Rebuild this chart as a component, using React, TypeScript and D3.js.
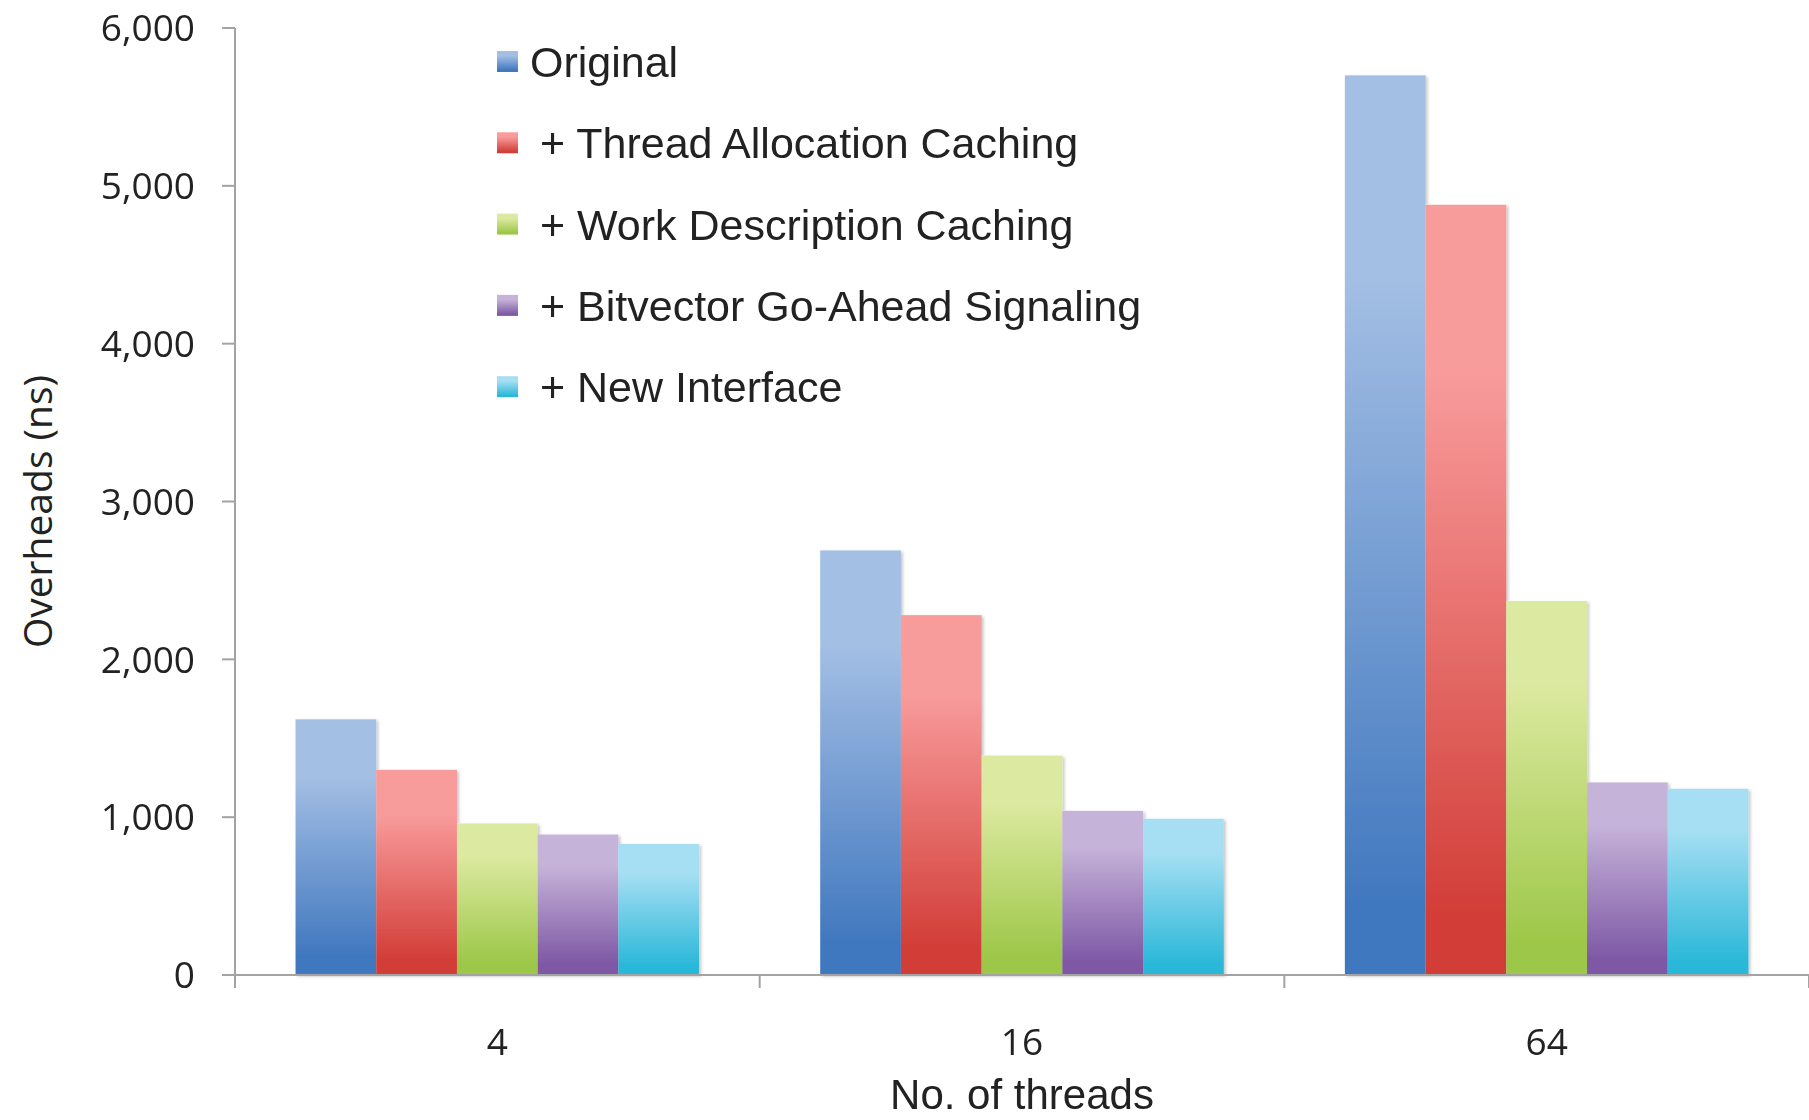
import React from "react";
import * as d3 from "d3";

// Thread counts on the x axis
const categories = ["4", "16", "64"];

// Series names, in legend order
const seriesNames = [
  "Original",
  "+ Thread Allocation Caching",
  "+ Work Description Caching",
  "+ Bitvector Go-Ahead Signaling",
  "+ New Interface",
];

// Overheads (ns) per series, one value per thread count
const original = [1620, 2690, 5700];
const threadAllocCaching = [1300, 2280, 4880];
const workDescCaching = [960, 1390, 2370];
const bitvectorSignaling = [890, 1040, 1220];
const newInterface = [830, 990, 1180];

const yTicks = [0, 1000, 2000, 3000, 4000, 5000, 6000];

// Gradient colors (top, bottom) per series
const seriesColors: [string, string][] = [
  ["#a4bfe4", "#4178bf"],
  ["#f89b9b", "#d23e38"],
  ["#dce9a0", "#9dc748"],
  ["#c6b3d9", "#7e58a5"],
  ["#a6dff3", "#2cb8d9"],
];

const W = 1809;
const H = 1120;
const plotLeft = 235;
const plotRight = 1809;
const plotTop = 28;
const plotBottom = 975;

export default function App() {
  const seriesValues = [
    original,
    threadAllocCaching,
    workDescCaching,
    bitvectorSignaling,
    newInterface,
  ];

  const x0 = d3
    .scaleBand<string>()
    .domain(categories)
    .range([plotLeft, plotRight])
    .paddingInner(0)
    .paddingOuter(0);

  const x1 = d3
    .scaleBand<string>()
    .domain(seriesNames)
    .range([0, x0.bandwidth()])
    .paddingInner(0)
    .paddingOuter(0.75);

  const y = d3.scaleLinear().domain([0, 6000]).range([plotBottom, plotTop]);
  const fmt = d3.format(",");

  const axisColor = "#a3a3a3";
  const tickFont = "'Open Sans', sans-serif";
  const textFont = "'Liberation Sans', Arial, sans-serif";

  const legendX = 497;
  const legendY0 = 61.5;
  const legendStep = 81.3;

  return (
    <svg
      width={W}
      height={H}
      style={{ position: "absolute", left: 0, top: 0, display: "block", background: "#fff" }}
    >
      <defs>
        {seriesColors.map(([top, bottom], i) => (
          <linearGradient key={i} id={`grad${i}`} x1="0" y1="0" x2="0" y2="1">
            <stop offset="0" stopColor={top} />
            <stop offset="0.22" stopColor={top} />
            <stop offset="0.92" stopColor={bottom} />
            <stop offset="1" stopColor={bottom} />
          </linearGradient>
        ))}
        <filter id="barShadow" x="-10%" y="-10%" width="130%" height="130%">
          <feDropShadow dx="2" dy="1.5" stdDeviation="1.5" floodColor="#000" floodOpacity="0.22" />
        </filter>
      </defs>

      {/* Bars */}
      <g filter="url(#barShadow)">
        {categories.map((cat, ci) => (
          <g key={cat} transform={`translate(${x0(cat)},0)`}>
            {seriesNames.map((name, si) => {
              const v = seriesValues[si][ci];
              return (
                <rect
                  key={name}
                  x={x1(name)}
                  y={y(v)}
                  width={x1.bandwidth()}
                  height={y(0) - y(v)}
                  fill={`url(#grad${si})`}
                />
              );
            })}
          </g>
        ))}
      </g>

      {/* Y axis */}
      <line x1={plotLeft} x2={plotLeft} y1={plotTop} y2={plotBottom + 13} stroke={axisColor} strokeWidth={2} />
      {yTicks.map((t) => (
        <g key={t}>
          <line x1={plotLeft - 13} x2={plotLeft} y1={y(t)} y2={y(t)} stroke={axisColor} strokeWidth={2} />
          <text
            x={195}
            y={y(t)}
            dy="0.36em"
            textAnchor="end"
            fontFamily={tickFont}
            fontSize={37}
            fill="#222"
          >
            {fmt(t)}
          </text>
        </g>
      ))}

      {/* X axis */}
      <line x1={plotLeft - 13} x2={plotRight} y1={plotBottom} y2={plotBottom} stroke={axisColor} strokeWidth={2} />
      {categories.map((cat) => (
        <line
          key={`b${cat}`}
          x1={(x0(cat) as number) + x0.bandwidth()}
          x2={(x0(cat) as number) + x0.bandwidth()}
          y1={plotBottom}
          y2={plotBottom + 13}
          stroke={axisColor}
          strokeWidth={2}
        />
      ))}
      {categories.map((cat) => (
        <text
          key={`l${cat}`}
          x={(x0(cat) as number) + x0.bandwidth() / 2}
          y={1042}
          dy="0.36em"
          textAnchor="middle"
          fontFamily={tickFont}
          fontSize={37}
          fill="#222"
        >
          {cat}
        </text>
      ))}

      {/* Axis titles */}
      <text
        x={(plotLeft + plotRight) / 2}
        y={1094}
        dy="0.36em"
        textAnchor="middle"
        fontFamily={textFont}
        fontSize={42}
        fill="#222"
      >
        No. of threads
      </text>
      <text
        transform={`translate(38, ${(plotTop + plotBottom) / 2 + 10}) rotate(-90)`}
        dy="0.36em"
        textAnchor="middle"
        fontFamily={tickFont}
        fontSize={39}
        fill="#222"
      >
        Overheads (ns)
      </text>

      {/* Legend */}
      {seriesNames.map((name, i) => {
        const cy = legendY0 + i * legendStep;
        return (
          <g key={name}>
            <rect x={legendX} y={cy - 10.5} width={21} height={21} fill={`url(#grad${i})`} />
            <text
              x={i === 0 ? 530 : 540}
              y={cy}
              dy="0.36em"
              fontFamily={textFont}
              fontSize={43}
              fill="#222"
            >
              {name}
            </text>
          </g>
        );
      })}
    </svg>
  );
}
